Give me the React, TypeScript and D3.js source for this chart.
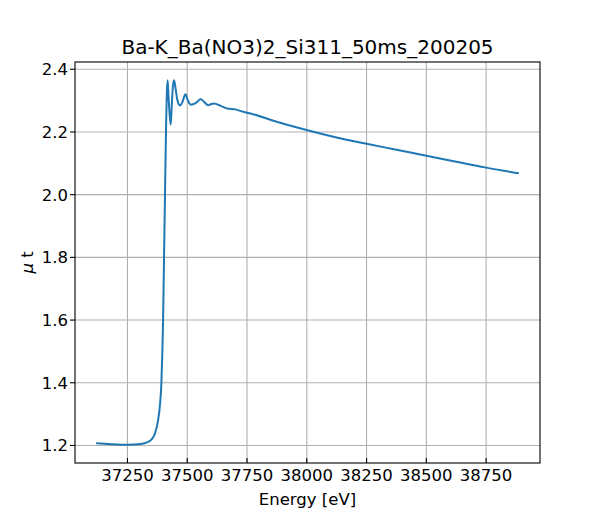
import * as React from 'react';
import * as d3 from 'd3';

// energy [eV] and mu*t
const energy = [
  37119, 37180, 37251, 37306, 37334, 37352, 37365, 37378, 37386, 37392, 37396,
  37399, 37403, 37407, 37412, 37415, 37418, 37422, 37427, 37431, 37435, 37440,
  37445, 37451, 37458, 37464, 37470, 37481, 37492, 37503, 37515, 37535, 37556,
  37572, 37587, 37600, 37612, 37640, 37667, 37702, 37730, 37765, 37860, 37999,
  38120, 38245, 38370, 38495, 38620, 38745, 38887,
];
const mut = [
  1.2074, 1.2042, 1.2022, 1.2048, 1.2106, 1.22, 1.238, 1.28, 1.33, 1.4, 1.5,
  1.6, 1.8, 2.0, 2.24, 2.33, 2.365, 2.31, 2.25, 2.224, 2.28, 2.345,
  2.365, 2.34, 2.305, 2.289, 2.284, 2.298, 2.32, 2.3, 2.287, 2.292, 2.304,
  2.295, 2.285, 2.289, 2.291, 2.283, 2.275, 2.272, 2.265, 2.259, 2.236, 2.206,
  2.183, 2.163, 2.144, 2.125, 2.106, 2.087, 2.068,
];

const xTicks = [37250, 37500, 37750, 38000, 38250, 38500, 38750];
const yTicks = [1.2, 1.4, 1.6, 1.8, 2.0, 2.2, 2.4];

const title = 'Ba-K_Ba(NO3)2_Si311_50ms_200205';
const xLabel = 'Energy [eV]';

const W = 600;
const H = 520;
const margin = { left: 75, right: 60, top: 62, bottom: 57 };
const FONT = 'DejaVu Sans, sans-serif';

function pad(ext: [number, number]): [number, number] {
  const d = (ext[1] - ext[0]) * 0.05;
  return [ext[0] - d, ext[1] + d];
}

export default function App() {
  const ref = React.useRef<SVGSVGElement>(null);

  React.useEffect(() => {
    const svg = d3.select(ref.current);
    svg.selectAll('*').remove();

    const x = d3
      .scaleLinear()
      .domain(pad(d3.extent(energy) as [number, number]))
      .range([margin.left, W - margin.right]);
    const y = d3
      .scaleLinear()
      .domain(pad(d3.extent(mut) as [number, number]))
      .range([H - margin.bottom, margin.top]);

    const [x0, x1] = x.range();
    const [y0, y1] = y.range();

    svg.append('rect').attr('width', W).attr('height', H).attr('fill', '#fff');

    // grid
    const grid = svg.append('g').attr('stroke', '#b0b0b0').attr('stroke-width', 1.1);
    xTicks.forEach((t) => {
      grid.append('line').attr('x1', x(t)).attr('x2', x(t)).attr('y1', y0).attr('y2', y1);
    });
    yTicks.forEach((t) => {
      grid.append('line').attr('x1', x0).attr('x2', x1).attr('y1', y(t)).attr('y2', y(t));
    });

    // spectrum
    const line = d3
      .line<number>()
      .x((_d, i) => x(energy[i]))
      .y((d) => y(d))
      .curve(d3.curveMonotoneX);
    svg
      .append('path')
      .datum(mut)
      .attr('d', line)
      .attr('fill', 'none')
      .attr('stroke', '#1f77b4')
      .attr('stroke-width', 2)
      .attr('stroke-linejoin', 'round');

    // ticks and labels
    const ax = svg.append('g').attr('font-family', FONT).attr('font-size', 16.5).attr('fill', '#000');
    xTicks.forEach((t) => {
      ax.append('line')
        .attr('x1', x(t)).attr('x2', x(t))
        .attr('y1', y0).attr('y2', y0 - 5)
        .attr('stroke', '#000').attr('stroke-width', 1.1);
      ax.append('text')
        .attr('x', x(t)).attr('y', y0 + 18)
        .attr('text-anchor', 'middle')
        .text(String(t));
    });
    yTicks.forEach((t) => {
      ax.append('line')
        .attr('x1', x0 - 5).attr('x2', x0)
        .attr('y1', y(t)).attr('y2', y(t))
        .attr('stroke', '#000').attr('stroke-width', 1.1);
      ax.append('text')
        .attr('x', x0 - 7).attr('y', y(t) + 6)
        .attr('text-anchor', 'end')
        .text(t.toFixed(1));
    });

    // frame
    svg
      .append('rect')
      .attr('x', x0).attr('y', y1)
      .attr('width', x1 - x0).attr('height', y0 - y1)
      .attr('fill', 'none').attr('stroke', '#000').attr('stroke-width', 1.1);

    svg
      .append('text')
      .attr('x', (x0 + x1) / 2).attr('y', 54)
      .attr('text-anchor', 'middle')
      .attr('font-family', FONT).attr('font-size', 20)
      .text(title);

    svg
      .append('text')
      .attr('x', (x0 + x1) / 2).attr('y', 505)
      .attr('text-anchor', 'middle')
      .attr('font-family', FONT).attr('font-size', 16.5)
      .text(xLabel);

    const yl = svg
      .append('text')
      .attr('transform', `translate(33,${(y0 + y1) / 2}) rotate(-90)`)
      .attr('text-anchor', 'middle')
      .attr('font-family', FONT).attr('font-size', 16.5);
    yl.append('tspan').attr('font-style', 'italic').text('μ');
    yl.append('tspan').text(' t');
  }, []);

  return (
    <svg
      ref={ref}
      width={W}
      height={H}
      style={{ position: 'fixed', left: 0, top: 0, display: 'block' }}
    />
  );
}
